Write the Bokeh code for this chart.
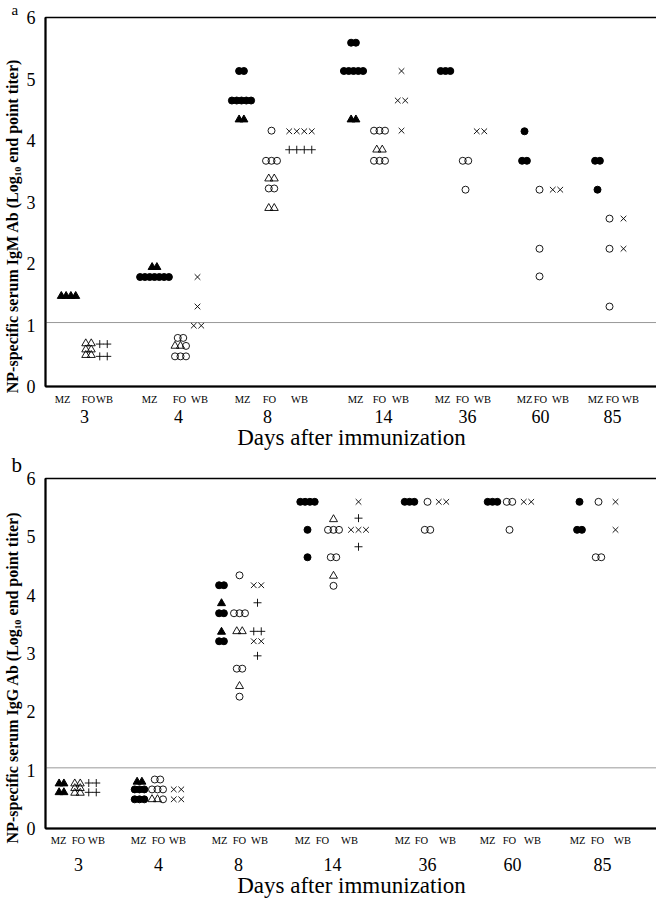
from bokeh.plotting import figure
from bokeh.models import Range1d, FixedTicker, Span, Title, LinearAxis, ColumnDataSource
from bokeh.layouts import column
from bokeh.embed import file_html
from bokeh.resources import INLINE

DAYS = ["3", "4", "8", "14", "36", "60", "85"]
CELLS = ["MZ", "FO", "WB"]
DETECTION_LIMIT = 1.04

# ---------------- Panel a : IgM (log10 end point titer) ----------------
igm_mz_filled_circle = {
    "3": [],
    "4": [1.78, 1.78, 1.78, 1.78, 1.78, 1.78, 1.78],
    "8": [5.13, 5.13, 4.65, 4.65, 4.65, 4.65, 4.65],
    "14": [5.59, 5.59, 5.13, 5.13, 5.13, 5.13, 5.13],
    "36": [5.13, 5.13, 5.13],
    "60": [4.15, 3.67, 3.67],
    "85": [3.67, 3.67, 3.20],
}
igm_mz_filled_triangle = {
    "3": [1.47, 1.47, 1.47, 1.47],
    "4": [1.94, 1.94],
    "8": [4.34, 4.34],
    "14": [4.34, 4.34],
    "36": [], "60": [], "85": [],
}
igm_fo_open_triangle = {
    "3": [0.70, 0.70, 0.60, 0.60, 0.51, 0.51],
    "4": [0.66, 0.66],
    "8": [3.38, 3.38, 2.90, 2.90],
    "14": [3.85, 3.85],
    "36": [], "60": [], "85": [],
}
igm_fo_open_circle = {
    "3": [],
    "4": [0.79, 0.79, 0.66, 0.49, 0.49, 0.49],
    "8": [4.16, 3.67, 3.67, 3.67, 3.22, 3.22],
    "14": [4.16, 4.16, 4.16, 3.67, 3.67, 3.67],
    "36": [3.67, 3.67, 3.20],
    "60": [3.20, 2.24, 1.79],
    "85": [2.73, 2.24, 1.30],
}
igm_wb_x = {
    "3": [],
    "4": [1.78, 1.30, 0.99, 0.99],
    "8": [4.15, 4.15, 4.15, 4.15],
    "14": [5.13, 4.65, 4.65, 4.16],
    "36": [4.15, 4.15],
    "60": [3.20, 3.20],
    "85": [2.73, 2.24],
}
igm_wb_plus = {
    "3": [0.69, 0.69, 0.49, 0.49],
    "4": [],
    "8": [3.85, 3.85, 3.85, 3.85],
    "14": [], "36": [], "60": [], "85": [],
}

# ---------------- Panel b : IgG (log10 end point titer) ----------------
igg_mz_filled_circle = {
    "3": [],
    "4": [0.67, 0.67, 0.67, 0.50, 0.50, 0.50],
    "8": [4.17, 4.17, 3.69, 3.69, 3.21, 3.21],
    "14": [5.60, 5.60, 5.60, 5.60, 5.12, 4.65],
    "36": [5.60, 5.60, 5.60],
    "60": [5.60, 5.60, 5.60],
    "85": [5.60, 5.12, 5.12],
}
igg_mz_filled_triangle = {
    "3": [0.77, 0.77, 0.62, 0.62],
    "4": [0.80, 0.80],
    "8": [3.86, 3.37],
    "14": [], "36": [], "60": [], "85": [],
}
igg_fo_open_triangle = {
    "3": [0.77, 0.77, 0.69, 0.69, 0.61, 0.61],
    "4": [0.50, 0.50],
    "8": [3.38, 3.38, 2.44],
    "14": [5.30, 4.33],
    "36": [], "60": [], "85": [],
}
igg_fo_open_circle = {
    "3": [],
    "4": [0.84, 0.84, 0.67, 0.67, 0.67, 0.50],
    "8": [4.34, 3.69, 3.69, 3.69, 2.74, 2.74, 2.26],
    "14": [5.12, 5.12, 5.12, 4.65, 4.65, 4.16],
    "36": [5.60, 5.12, 5.12],
    "60": [5.60, 5.60, 5.12],
    "85": [5.60, 4.65, 4.65],
}
igg_wb_x = {
    "3": [],
    "4": [0.67, 0.67, 0.50, 0.50],
    "8": [4.17, 4.17, 3.21, 3.21],
    "14": [5.60, 5.12, 5.12, 5.12],
    "36": [5.60, 5.60],
    "60": [5.60, 5.60],
    "85": [5.60, 5.12],
}
igg_wb_plus = {
    "3": [0.78, 0.78, 0.62, 0.62],
    "4": [],
    "8": [3.87, 3.38, 3.38, 2.96],
    "14": [5.32, 4.83],
    "36": [], "60": [], "85": [],
}

# ---------------- layout (horizontal positions, page px) ----------------
IGM_POINT_X = {"3": (66, 86, 101), "4": (152, 178, 195), "8": (239, 269, 298),
               "14": (351, 377, 399), "36": (443, 463, 478), "60": (522, 537, 554),
               "85": (595, 607, 621)}
IGM_LABEL_X = {"3": (60, 86, 102), "4": (147, 177, 197), "8": (240, 267, 297),
               "14": (353, 377, 398), "36": (440, 460, 480), "60": (522, 538, 558),
               "85": (593, 610, 628)}
IGM_DAY_X = {"3": 82, "4": 176, "8": 265, "14": 381, "36": 465, "60": 538, "85": 610}

IGG_POINT_X = {"3": (59, 75, 90), "4": (137, 155, 175), "8": (219, 237, 255),
               "14": (305, 331, 356), "36": (407, 425, 440), "60": (490, 507, 525),
               "85": (577, 596, 613)}
IGG_LABEL_X = {"3": (56, 76, 94), "4": (136, 156, 175), "8": (217, 237, 257),
               "14": (300, 320, 347), "36": (400, 419, 445), "60": (485, 507, 530),
               "85": (575, 595, 620)}
IGG_DAY_X = {"3": 76, "4": 156, "8": 236, "14": 330, "36": 425, "60": 510, "85": 600}

SPACING = {"MZ": 4.8, "FO": 5.5, "WB": 7.5}
SERIF = "Liberation Serif"
PAD = "\u00a0" * 12  # shifts the rotated y label toward the bottom of the frame, as in the original

STYLES = [
    # key, cell, marker, size, filled
    ("mz_tri", "MZ", "triangle", 8, True),
    ("mz_circ", "MZ", "circle", 7, True),
    ("fo_tri", "FO", "triangle", 8, False),
    ("fo_circ", "FO", "circle", 7, False),
    ("wb_x", "WB", "x", 8, False),
    ("wb_plus", "WB", "cross", 8, False),
]


def build_panel(data, point_x, label_x, day_x, ylabel, letter, letter_style, frame_h, top,
                sub_standoff, day_standoff, lab_standoff):
    p = figure(frame_width=612, frame_height=frame_h, output_backend="svg",
               toolbar_location=None, x_range=Range1d(43, 655), y_range=Range1d(0, 6),
               min_border_left=35, min_border_right=1, min_border_top=top,
               min_border_bottom=0, background_fill_color="white",
               border_fill_color="white")
    p.xgrid.visible = False
    p.ygrid.visible = False
    p.outline_line_color = "black"
    p.outline_line_width = 1.5

    # panel letter
    size, valign, standoff = letter_style
    p.add_layout(Title(text=letter, align="left", offset=-34, vertical_align=valign,
                       standoff=standoff, text_font=SERIF, text_font_size=size,
                       text_font_style="normal", text_color="black"), "above")

    # points
    cols = {k: {"x": [], "y": []} for k, *_ in STYLES}
    for day in DAYS:
        for ci, cell in enumerate(CELLS):
            rows = {}
            for key, c, *_ in STYLES:
                if c != cell:
                    continue
                for v in data[key][day]:
                    rows.setdefault(v, []).append(key)
            for v, keys in rows.items():
                n = len(keys)
                for i, key in enumerate(keys):
                    cols[key]["x"].append(point_x[day][ci] + (i - (n - 1) / 2) * SPACING[cell])
                    cols[key]["y"].append(v)
    for key, cell, marker, msize, filled in STYLES:
        src = ColumnDataSource(cols[key])
        p.scatter("x", "y", source=src, marker=marker, size=msize,
                  fill_color="black" if filled else None, line_color="black",
                  line_width=1 if filled else 0.9)

    p.add_layout(Span(location=DETECTION_LIMIT, dimension="width", line_color="#333333",
                      line_width=1, line_dash="1 1"))

    # y axis
    ya = p.yaxis[0]
    ya.ticker = FixedTicker(ticks=[0, 1, 2, 3, 4, 5, 6])
    ya.major_tick_line_color = None
    ya.minor_tick_line_color = None
    ya.axis_line_color = "black"
    ya.axis_line_width = 2
    ya.major_label_text_font = SERIF
    ya.major_label_text_font_size = "18px"
    ya.major_label_text_color = "black"
    ya.major_label_standoff = 4
    ya.axis_label = ylabel + PAD
    ya.axis_label_text_font = SERIF
    ya.axis_label_text_font_size = "16px"
    ya.axis_label_text_font_style = "bold"
    ya.axis_label_text_color = "black"
    ya.axis_label_standoff = 3

    # sub-group axis (MZ / FO / WB)
    xa = p.xaxis[0]
    ticks, over = [], {}
    for day in DAYS:
        for ci, cell in enumerate(CELLS):
            ticks.append(label_x[day][ci])
            over[label_x[day][ci]] = cell
    xa.ticker = FixedTicker(ticks=ticks)
    xa.major_label_overrides = over
    xa.major_tick_line_color = None
    xa.minor_tick_line_color = None
    xa.axis_line_color = "black"
    xa.axis_line_width = 2
    xa.major_label_text_font = SERIF
    xa.major_label_text_font_size = "10.5px"
    xa.major_label_text_color = "black"
    xa.major_label_standoff = sub_standoff

    # day axis
    da = LinearAxis(ticker=FixedTicker(ticks=[day_x[d] for d in DAYS]),
                    major_label_overrides={day_x[d]: d for d in DAYS})
    da.axis_line_color = None
    da.major_tick_line_color = None
    da.minor_tick_line_color = None
    da.major_label_text_font = SERIF
    da.major_label_text_font_size = "18px"
    da.major_label_text_color = "black"
    da.major_label_standoff = day_standoff
    da.axis_label = "Days after immunization"
    da.axis_label_text_font = SERIF
    da.axis_label_text_font_size = "23px"
    da.axis_label_text_font_style = "normal"
    da.axis_label_text_color = "black"
    da.axis_label_standoff = lab_standoff
    p.add_layout(da, "below")
    return p


igm = {"mz_circ": igm_mz_filled_circle, "mz_tri": igm_mz_filled_triangle,
       "fo_circ": igm_fo_open_circle, "fo_tri": igm_fo_open_triangle,
       "wb_x": igm_wb_x, "wb_plus": igm_wb_plus}
igg = {"mz_circ": igg_mz_filled_circle, "mz_tri": igg_mz_filled_triangle,
       "fo_circ": igg_fo_open_circle, "fo_tri": igg_fo_open_triangle,
       "wb_x": igg_wb_x, "wb_plus": igg_wb_plus}

pa = build_panel(igm, IGM_POINT_X, IGM_LABEL_X, IGM_DAY_X,
                 "NP-specific serum IgM Ab (Log\u2081\u2080 end point titer)", "a",
                 ("15px", "middle", -3), 369, 17, 1, -4, -1)
pb = build_panel(igg, IGG_POINT_X, IGG_LABEL_X, IGG_DAY_X,
                 "NP-specific serum IgG Ab (Log\u2081\u2080 end point titer)", "b",
                 ("21px", "top", 0), 350, 26, 0, 3, -1)

layout = column(pa, pb, spacing=0)
open("out.html", "w").write(file_html(layout, INLINE))
